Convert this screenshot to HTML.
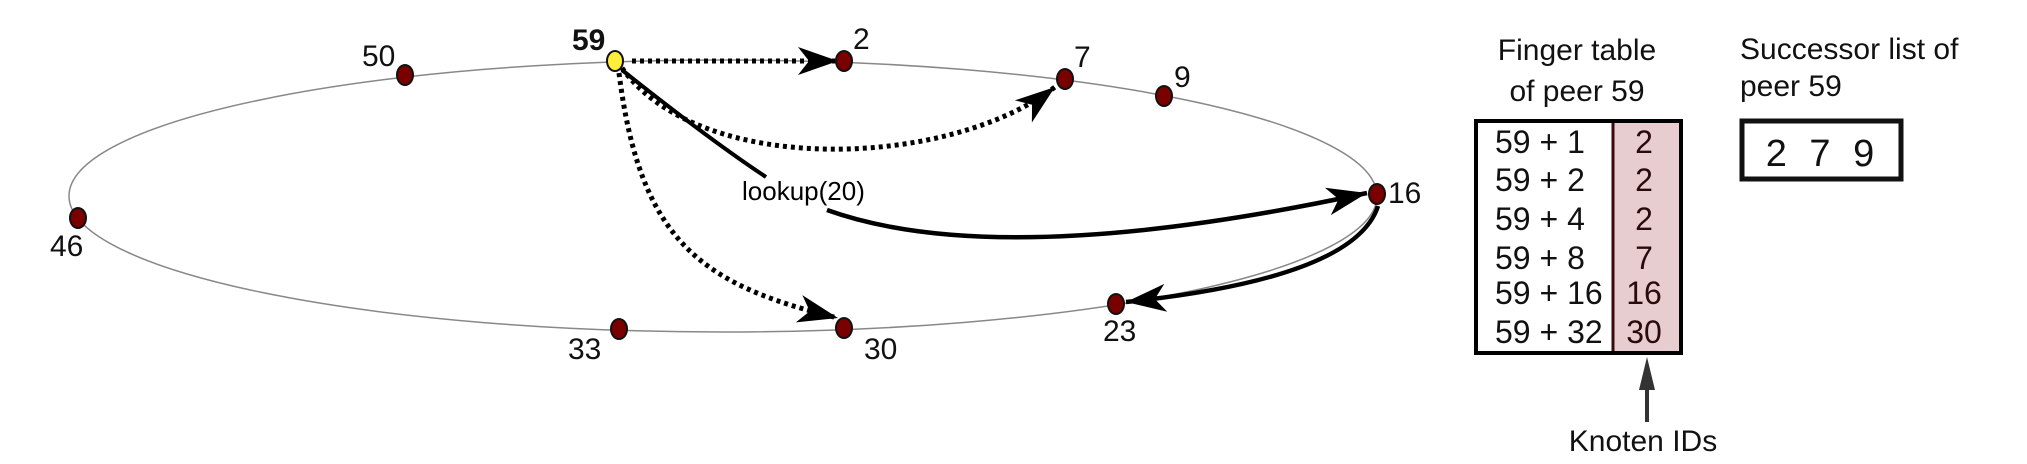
<!DOCTYPE html>
<html><head><meta charset="utf-8">
<style>
html,body{margin:0;padding:0;background:#fff;}
svg{display:block;font-family:"Liberation Sans",Arial,sans-serif;}
</style></head>
<body>
<svg id="diagram" width="2027" height="464" viewBox="0 0 2027 464" xmlns="http://www.w3.org/2000/svg">
<defs>
<marker id="head" markerUnits="userSpaceOnUse" markerWidth="50" markerHeight="34" refX="0" refY="0" viewBox="-42 -17 50 34" orient="auto">
<path d="M0,0 L-40,-14 L-29,0 L-40,14 Z" fill="#000"/>
</marker>
</defs>
<ellipse cx="723" cy="196" rx="654" ry="136" fill="none" stroke="#888" stroke-width="1.5"/>
<g id="arrows" fill="none" stroke="#000">
<path d="M632,61 L838,61" stroke-width="5" stroke-dasharray="4 4" marker-end="url(#head)"/>
<path d="M622,68 C700,178 950,168 1055,87" stroke-width="5" stroke-dasharray="4 4" marker-end="url(#head)"/>
<path d="M619,73 C640,240 700,285 838,318" stroke-width="5" stroke-dasharray="4 4" marker-end="url(#head)"/>
<path d="M622,70 Q710,140 766,177" stroke-width="4"/>
<path d="M827,210 Q1000,272 1367,193" stroke-width="4.5" marker-end="url(#head)"/>
<path d="M1378,206 Q1355,278 1126,302" stroke-width="4.5" marker-end="url(#head)"/>
</g>
<text x="742" y="200" font-size="26">lookup(20)</text>
<g id="nodes"></g>
<g id="table"></g>
</svg>
<script>
const nodeIds = [59, 2, 7, 9, 16, 23, 30, 33, 46, 50];
const nodeX = [615, 844, 1065, 1164, 1377, 1116, 844, 619, 78, 405];
const nodeY = [61, 61, 79, 96, 194, 304, 328, 329, 218, 75];
const labelX = [572, 853, 1074, 1174, 1388, 1103, 864, 568, 50, 362];
const labelY = [50, 49, 67, 87, 203, 341, 359, 359, 256, 66];
const fingerOffsets = ["59 + 1", "59 + 2", "59 + 4", "59 + 8", "59 + 16", "59 + 32"];
const fingerIds = ["2", "2", "2", "7", "16", "30"];
const successors = ["2", "7", "9"];
const NS = "http://www.w3.org/2000/svg";
function mk(tag, attrs, parent, txt){
  const e = document.createElementNS(NS, tag);
  for (const k in attrs) e.setAttribute(k, attrs[k]);
  if (txt !== undefined) e.textContent = txt;
  parent.appendChild(e); return e;
}
const ng = document.getElementById('nodes');
nodeIds.forEach((id, i) => {
  const c = mk('ellipse', {cx: nodeX[i], cy: nodeY[i], rx: 8, ry: 10, fill: i === 0 ? '#ffef3a' : '#7a0000', stroke: '#111', 'stroke-width': 2}, ng);
  
  
  const t = mk('text', {x: labelX[i], y: labelY[i], 'font-size': 30, 'font-weight': i === 0 ? 'bold' : 'normal', fill: '#111'}, ng, String(id));
  
  
});
const tg = document.getElementById('table');
const t1 = mk('text', {x: 1577, y: 60, 'font-size': 30, 'text-anchor': 'middle', fill: '#111'}, tg, 'Finger table');


const t2 = mk('text', {x: 1577, y: 101, 'font-size': 30, 'text-anchor': 'middle', fill: '#111'}, tg, 'of peer 59');


const pink = mk('rect', {x: 1613, y: 121, width: 68, height: 232, fill: '#e8cdd0', stroke: '#3a0a0a', 'stroke-width': 3}, tg);


const box = mk('rect', {x: 1476, y: 121, width: 205, height: 232, fill: 'none', stroke: '#000', 'stroke-width': 4}, tg);


const rowY = [153, 191, 230, 269, 304, 343];
fingerOffsets.forEach((o, i) => {
  const a = mk('text', {x: 1495, y: rowY[i], 'font-size': 32, fill: '#111'}, tg, o);
  
  
  const b = mk('text', {x: 1644, y: rowY[i], 'font-size': 32, 'text-anchor': 'middle', fill: '#2a0a0a'}, tg, fingerIds[i]);
  
  
});
const s1 = mk('text', {x: 1740, y: 59, 'font-size': 30, fill: '#111'}, tg, 'Successor list of');


const s2 = mk('text', {x: 1740, y: 96, 'font-size': 30, fill: '#111'}, tg, 'peer 59');


const sb = mk('rect', {x: 1742, y: 121, width: 159, height: 58, fill: 'none', stroke: '#111', 'stroke-width': 5}, tg);


const st = mk('text', {x: 1823, y: 166, 'font-size': 38, 'text-anchor': 'middle', 'letter-spacing': 6, fill: '#111'}, tg, successors.join(' '));


const ar = mk('line', {x1: 1647, y1: 422, x2: 1647, y2: 375, stroke: '#333', 'stroke-width': 4}, tg);


const ah = mk('path', {d: 'M1647,357 L1639,390 L1655,390 Z', fill: '#333'}, tg);


const kl = mk('text', {x: 1643, y: 451, 'font-size': 30, 'text-anchor': 'middle', fill: '#111'}, tg, 'Knoten IDs');


</script>
</body></html>
